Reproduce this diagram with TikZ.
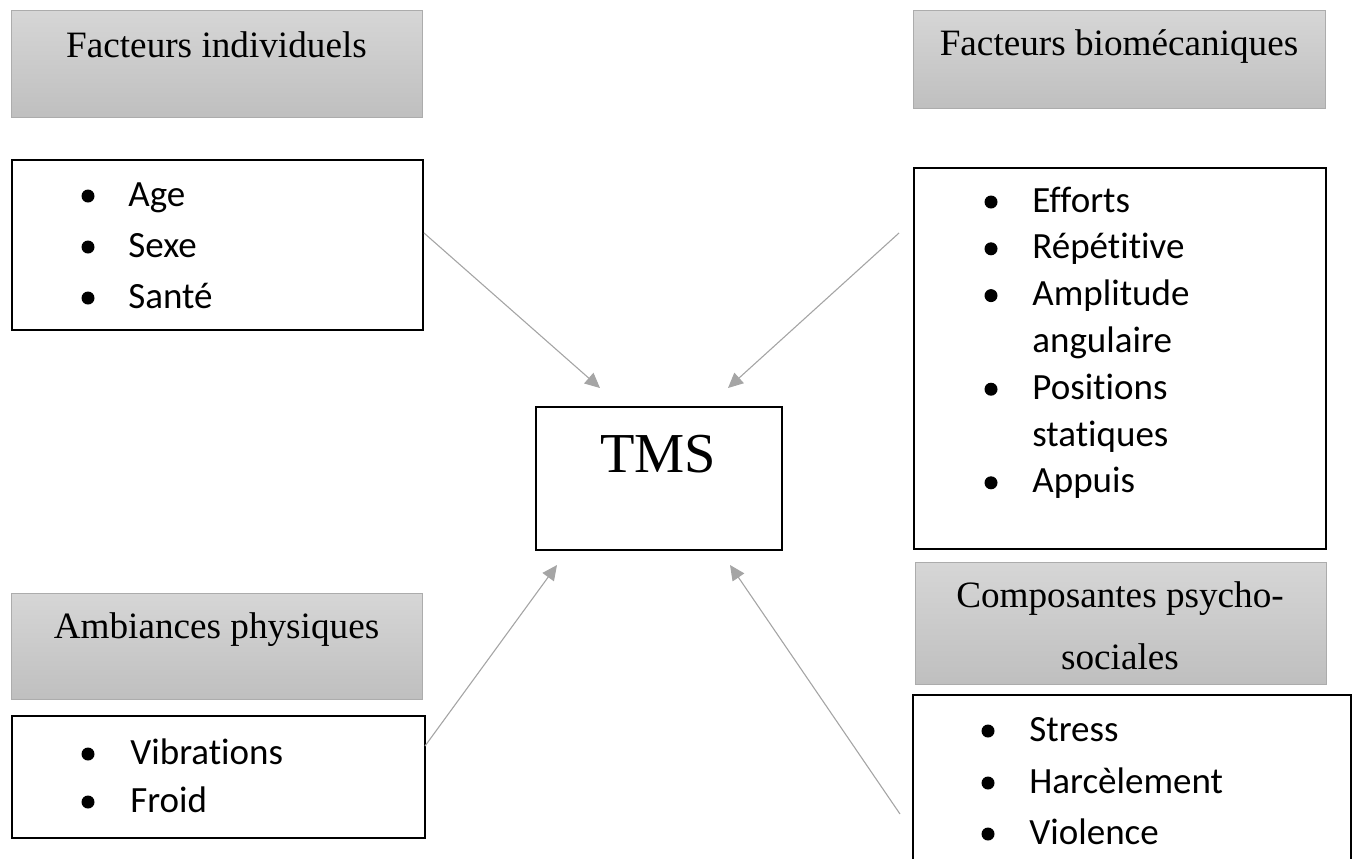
\documentclass[tikz,border=0pt]{standalone}
\usepackage{fontspec}
\setmainfont{Liberation Serif}
\newfontfamily\calfont[Ligatures=NoCommon,RawFeature=-liga]{Carlito}
\usetikzlibrary{arrows.meta}
\definecolor{hdrtop}{RGB}{214,214,214}
\definecolor{hdrbot}{RGB}{191,191,191}
\definecolor{hdrline}{RGB}{172,172,172}
\definecolor{arrowgray}{RGB}{165,165,165}
\begin{document}
\begin{tikzpicture}[x=0.5pt,y=-0.5pt,
  hdr/.style={draw=hdrline, line width=0.6pt, top color=hdrtop, bottom color=hdrbot, rectangle, inner sep=0pt, anchor=north west},
  listbox/.style={draw=black, line width=1pt, fill=white, rectangle, inner sep=0pt, anchor=north west},
  hdrtext/.style={anchor=base, inner sep=0pt, font=\fontsize{18.6}{22}\selectfont},
  tmstext/.style={anchor=base, inner sep=0pt, font=\fontsize{28.2}{32}\selectfont},
  itemtext/.style={anchor=base west, inner sep=0pt, font=\calfont\fontsize{18.5}{22}\selectfont},
  bul/.style={fill=black},
  conn/.style={draw=arrowgray, line width=0.55pt, -{Triangle[length=7.5pt,width=7pt]}},
]
\useasboundingbox (0,0) rectangle (1352,858);

% header boxes
\node[hdr, minimum width=205.5pt, minimum height=53.5pt] (indh) at (11,10) {};
\node[hdr, minimum width=206pt, minimum height=49pt] (bioh) at (913,10) {};
\node[hdr, minimum width=205.5pt, minimum height=53pt] (ambh) at (11,593) {};
\node[hdr, minimum width=205.5pt, minimum height=61pt] (psyh) at (915,562) {};

\node[hdrtext] (indt) at (216.5,57) {Facteurs individuels};
\node[hdrtext] (biot) at (1119,55) {Facteurs biomécaniques};
\node[hdrtext] (ambt) at (216.5,638) {Ambiances physiques};
\node[hdrtext] (psyt1) at (1120,607) {Composantes psycho-};
\node[hdrtext] (psyt2) at (1120,669) {sociales};

% list boxes
\node[listbox, minimum width=205.5pt, minimum height=85pt] (ind) at (11,159) {};
\node[listbox, minimum width=206pt, minimum height=190.5pt] (bio) at (913,167) {};
\node[listbox, minimum width=206.5pt, minimum height=61pt] (amb) at (11,715) {};
\node[listbox, minimum width=219pt, minimum height=93pt] (psy) at (912,694) {};

% TMS
\node[listbox, minimum width=123pt, minimum height=71.5pt] (tms) at (535,406) {};
\node[tmstext] (tmst) at (658,472) {TMS};

% items: individuels
\fill[bul] (88,196) circle[radius=3.25pt];
\fill[bul] (88,247) circle[radius=3.25pt];
\fill[bul] (88,298) circle[radius=3.25pt];
\node[itemtext] (i1) at (128,206) {Age};
\node[itemtext] (i2) at (128,257) {Sexe};
\node[itemtext] (i3) at (128,308) {Santé};

% items: biomecaniques
\fill[bul] (991,202) circle[radius=3.25pt];
\fill[bul] (991,248.8) circle[radius=3.25pt];
\fill[bul] (991,295.6) circle[radius=3.25pt];
\fill[bul] (991,389.2) circle[radius=3.25pt];
\fill[bul] (991,482.8) circle[radius=3.25pt];
\node[itemtext] (b1) at (1032,212) {Efforts};
\node[itemtext] (b2) at (1032,258.8) {Répétitive};
\node[itemtext] (b3) at (1032,305.6) {Amplitude};
\node[itemtext] (b3b) at (1032,352.4) {angulaire};
\node[itemtext] (b4) at (1032,399.2) {Positions};
\node[itemtext] (b4b) at (1032,446) {statiques};
\node[itemtext] (b5) at (1032,492.8) {Appuis};

% items: ambiances
\fill[bul] (88,754) circle[radius=3.25pt];
\fill[bul] (88,802) circle[radius=3.25pt];
\node[itemtext] (a1) at (130,764) {Vibrations};
\node[itemtext] (a2) at (130,812) {Froid};

% items: psycho-sociales
\fill[bul] (988,731) circle[radius=3.25pt];
\fill[bul] (988,783) circle[radius=3.25pt];
\fill[bul] (988,834) circle[radius=3.25pt];
\node[itemtext] (p1) at (1029,741) {Stress};
\node[itemtext] (p2) at (1029,793) {Harcèlement};
\node[itemtext] (p3) at (1029,844) {Violence};

% connector ends
\coordinate (s1) at ([yshift=6pt]ind.east);
\coordinate (s2) at ([xshift=-7pt,yshift=62.75pt]bio.west);
\coordinate (s3) at ([xshift=-0.5pt,yshift=15.5pt]amb.east);
\coordinate (s4) at ([xshift=-6pt,yshift=-13pt]psy.west);
\coordinate (t1) at ([xshift=-29.5pt,yshift=9pt]tms.north);
\coordinate (t2) at ([xshift=34.5pt,yshift=9pt]tms.north);
\coordinate (t3) at ([xshift=-51pt,yshift=-7pt]tms.south);
\coordinate (t4) at ([xshift=35.5pt,yshift=-7pt]tms.south);

\draw[conn] (s1) -- (t1);
\draw[conn] (s2) -- (t2);
\draw[conn] (s3) -- (t3);
\draw[conn] (s4) -- (t4);
\end{tikzpicture}
\end{document}
